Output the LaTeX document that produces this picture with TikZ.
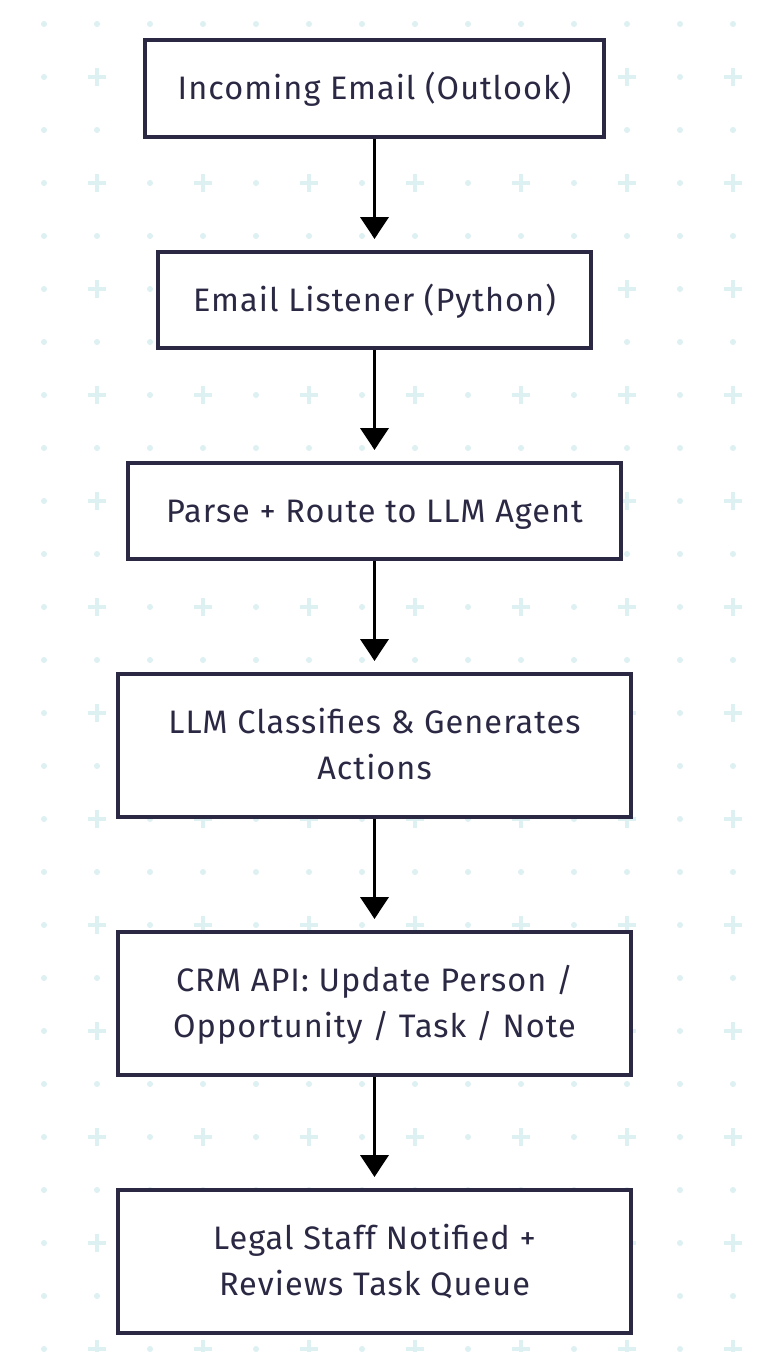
\documentclass[tikz,border=0pt]{standalone}
\usepackage{fontspec}
\setmainfont[LetterSpace=3.2]{Fira Sans}
\usetikzlibrary{arrows.meta,backgrounds}
\definecolor{ink}{HTML}{2A2843}
\definecolor{gridc}{HTML}{DDF0F2}
\definecolor{shadowc}{HTML}{EDEDED}
\begin{document}
\begin{tikzpicture}[x=1pt,y=-1pt,
  box/.style={draw=ink, line width=4pt, fill=white, inner sep=0pt,
    font=\fontsize{32.5}{46}\selectfont, text=ink, align=center,
    text height=22pt, text depth=0pt},
  twoline/.style={text height=68pt, text depth=0pt},
  flow/.style={-{Triangle[length=22pt,width=28pt]}, line width=3.8pt, black, shorten >=11pt},
  gdot/.style={fill=gridc},
  gplus/.style={draw=gridc, line width=3.5pt}]
\useasboundingbox (0,0) rectangle (766,1352);
\fill[white] (0,0) rectangle (766,1352);
% grid
\foreach \i in {0,...,13}{
  \foreach \j in {0,...,25}{
    \pgfmathsetmacro{\gx}{44+53*\i}
    \pgfmathsetmacro{\gy}{24+53*\j}
    \pgfmathtruncatemacro{\odd}{mod(\i,2)*mod(\j,2)}
    \ifnum\odd=1
      \draw[gplus] (\gx-9,\gy) -- (\gx+9,\gy) (\gx,\gy-9) -- (\gx,\gy+9);
    \else
      \fill[gdot] (\gx,\gy) circle (3pt);
    \fi
  }
}
% nodes
\node[box, minimum width=459pt, minimum height=97pt] (n1) at (374.5,88.5) {Incoming Email (Outlook)};
\node[box, minimum width=433pt, minimum height=96pt] (n2) at (374.5,300) {Email Listener (Python)};
\node[box, minimum width=493pt, minimum height=96pt] (n3) at (374.5,511) {Parse + Route to LLM Agent};
\node[box, twoline, minimum width=513pt, minimum height=143pt] (n4) at (374.5,745.5) {LLM Classifies \& Generates\\Actions};
\node[box, twoline, minimum width=513pt, minimum height=143pt] (n5) at (374.5,1003.5) {CRM API: Update Person /\\Opportunity / Task / Note};
\node[box, twoline, minimum width=513pt, minimum height=143pt] (n6) at (374.5,1261.5) {Legal Staff Notified +\\Reviews Task Queue};
% shadows
\begin{scope}[on background layer]
\foreach \n in {n1,n2,n3,n4,n5,n6}{
  \fill[shadowc] ([yshift=-10pt]\n.south west) rectangle ([xshift=10pt,yshift=-8pt]\n.north east);
}
\end{scope}
% connectors
\draw[flow] (n1.south) -- (n2.north);
\draw[flow] (n2.south) -- (n3.north);
\draw[flow] (n3.south) -- (n4.north);
\draw[flow] (n4.south) -- (n5.north);
\draw[flow] (n5.south) -- (n6.north);
\end{tikzpicture}
\end{document}
